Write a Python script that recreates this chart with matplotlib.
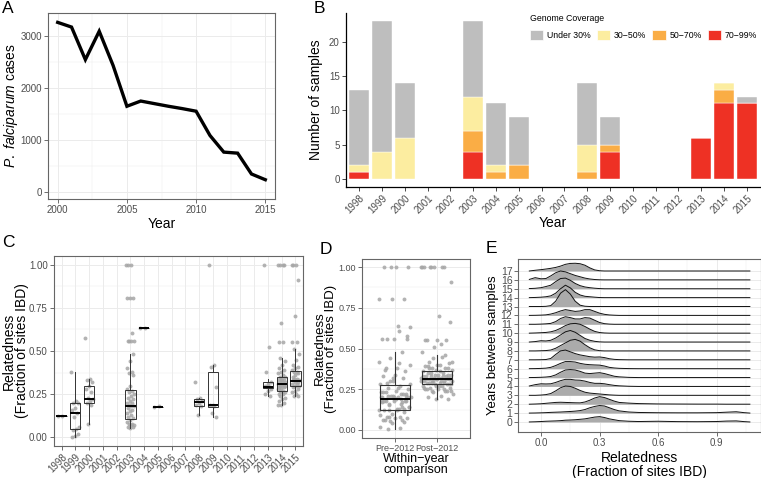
import numpy as np
import matplotlib
matplotlib.use('Agg')
import matplotlib.pyplot as plt
from matplotlib.patches import Patch

plt.rcParams['font.family'] = ['Liberation Sans', 'DejaVu Sans']
plt.rcParams['mathtext.fontset'] = 'custom'
plt.rcParams['mathtext.it'] = 'Liberation Sans:italic'
plt.rcParams['mathtext.rm'] = 'Liberation Sans'

# ---- A: P. falciparum cases per year
case_years = list(range(2000, 2016))
case_counts = [3260, 3170, 2545, 3090, 2435, 1650, 1750, 1700, 1650, 1605,
               1555, 1090, 770, 750, 350, 240]

# ---- B: samples per year by genome coverage
b_years = list(range(1998, 2016))
cov_red = [1, 0, 0, 0, 0, 4, 0, 0, 0, 0, 0, 4, 0, 0, 0, 6, 11, 11]
cov_orange = [0, 0, 0, 0, 0, 3, 1, 2, 0, 0, 1, 1, 0, 0, 0, 0, 2, 0]
cov_yellow = [1, 4, 6, 0, 0, 5, 1, 0, 0, 0, 4, 0, 0, 0, 0, 0, 1, 0]
cov_grey = [11, 19, 8, 0, 0, 11, 9, 7, 0, 0, 9, 4, 0, 0, 0, 0, 0, 1]
cov_labels = ['Under 30%', '30\u221250%', '50\u221270%', '70\u221299%']
cov_colors = ['#BEBEBE', '#FCEDA0', '#FAAD45', '#EE3124']

# ---- C: within-year relatedness
rel_1998 = [0.125, 0.126]
rel_1999 = [0.38, 0.21, 0.20, 0.20, 0.17, 0.16, 0.14, 0.12, 0.06, 0.05, 0.04, 0.02, 0.01, 0.005]
rel_2000 = [0.575, 0.34, 0.33, 0.32, 0.30, 0.28, 0.26, 0.23, 0.22, 0.21, 0.20, 0.19, 0.08]
rel_2003 = [1.0, 1.0, 1.0, 0.805, 0.805, 0.805, 0.605, 0.56, 0.56, 0.56, 0.56, 0.48, 0.44,
            0.40, 0.38, 0.37, 0.36, 0.30, 0.28, 0.27, 0.26, 0.25, 0.24, 0.23, 0.22, 0.21,
            0.20, 0.20, 0.19, 0.18, 0.18, 0.17, 0.16, 0.15, 0.14, 0.13, 0.12, 0.11, 0.10,
            0.09, 0.08, 0.08, 0.07, 0.07, 0.06, 0.06, 0.055]
rel_2004 = [0.635, 0.636]
rel_2005 = [0.178, 0.179]
rel_2008 = [0.32, 0.23, 0.22, 0.21, 0.20, 0.19, 0.18, 0.13]
rel_2009 = [1.0, 0.42, 0.41, 0.29, 0.19, 0.19, 0.18, 0.14, 0.12]
rel_2013 = [1.0, 0.525, 0.38, 0.32, 0.31, 0.30, 0.29, 0.29, 0.28, 0.27, 0.25, 0.24]
rel_2014 = [1.0, 1.0, 1.0, 1.0, 0.665, 0.55, 0.55, 0.46, 0.44, 0.42, 0.40, 0.39, 0.38,
            0.37, 0.36, 0.35, 0.35, 0.34, 0.34, 0.33, 0.33, 0.32, 0.32, 0.32, 0.31, 0.31,
            0.31, 0.31, 0.30, 0.30, 0.30, 0.29, 0.29, 0.28, 0.28, 0.27, 0.27, 0.26, 0.26,
            0.25, 0.25, 0.24, 0.23, 0.22, 0.21, 0.20, 0.19, 0.19]
rel_2015 = [1.0, 1.0, 1.0, 0.91, 0.70, 0.555, 0.555, 0.51, 0.48, 0.45, 0.42, 0.41, 0.40,
            0.39, 0.38, 0.38, 0.37, 0.36, 0.35, 0.34, 0.34, 0.33, 0.33, 0.33, 0.32, 0.32,
            0.31, 0.31, 0.30, 0.30, 0.30, 0.29, 0.28, 0.27, 0.26, 0.25, 0.24, 0.24]
rel_by_year = {1998: rel_1998, 1999: rel_1999, 2000: rel_2000, 2003: rel_2003,
               2004: rel_2004, 2005: rel_2005, 2008: rel_2008, 2009: rel_2009,
               2013: rel_2013, 2014: rel_2014, 2015: rel_2015}

# box summaries
box_years = [1998, 1999, 2000, 2003, 2004, 2005, 2008, 2009, 2013, 2014, 2015]
box_q1 = [0.125, 0.05, 0.20, 0.105, 0.635, 0.178, 0.18, 0.175, 0.285, 0.27, 0.30]
box_med = [0.125, 0.14, 0.22, 0.18, 0.635, 0.178, 0.205, 0.19, 0.29, 0.31, 0.325]
box_q3 = [0.125, 0.20, 0.30, 0.275, 0.635, 0.178, 0.225, 0.38, 0.32, 0.35, 0.385]
box_lo = [0.125, 0.005, 0.08, 0.055, 0.635, 0.178, 0.13, 0.12, 0.24, 0.19, 0.24]
box_hi = [0.125, 0.38, 0.34, 0.48, 0.635, 0.178, 0.23, 0.42, 0.34, 0.46, 0.51]

# ---- D: pre/post 2012
d_groups = ['Pre\u22122012', 'Post\u22122012']
d_q1 = [0.12, 0.28]
d_med = [0.19, 0.315]
d_q3 = [0.275, 0.36]
d_lo = [0.005, 0.19]
d_hi = [0.48, 0.46]

# ---- E: ridgeline densities (height in row units)
ridge_x = [-0.06, -0.03, 0.0, 0.025, 0.05, 0.075, 0.1, 0.125, 0.15, 0.175, 0.2, 0.225,
           0.25, 0.275, 0.3, 0.325, 0.35, 0.375, 0.4, 0.45, 0.5, 0.6, 0.7, 0.8, 0.9,
           0.95, 1.0, 1.04, 1.07]
ridge_rows = list(range(18))
ridge_h = [
    [0, 0.02, 0.05, 0.08, 0.10, 0.12, 0.15, 0.20, 0.22, 0.25, 0.30, 0.35, 0.45, 0.55, 0.60, 0.50, 0.35, 0.25, 0.15, 0.08, 0.05, 0.08, 0.04, 0.03, 0.05, 0.10, 0.12, 0.04, 0],
    [0, 0.01, 0.03, 0.05, 0.08, 0.10, 0.12, 0.15, 0.18, 0.22, 0.28, 0.40, 0.60, 0.75, 0.85, 0.80, 0.60, 0.40, 0.25, 0.12, 0.07, 0.04, 0.03, 0.03, 0.05, 0.10, 0.15, 0.05, 0],
    [0, 0.02, 0.05, 0.10, 0.15, 0.20, 0.22, 0.20, 0.18, 0.16, 0.15, 0.25, 0.45, 0.70, 0.85, 0.75, 0.55, 0.35, 0.20, 0.12, 0.07, 0.03, 0.02, 0.01, 0.01, 0, 0, 0, 0],
    [0, 0, 0.03, 0.08, 0.20, 0.50, 0.85, 1.05, 1.00, 0.80, 0.55, 0.35, 0.25, 0.20, 0.15, 0.10, 0.05, 0.02, 0, 0, 0, 0, 0, 0, 0, 0, 0, 0, 0],
    [0.05, 0.20, 0.30, 0.28, 0.30, 0.45, 0.65, 0.80, 0.80, 0.72, 0.70, 0.60, 0.45, 0.35, 0.35, 0.30, 0.20, 0.12, 0.07, 0.02, 0, 0, 0, 0, 0, 0, 0, 0, 0],
    [0, 0.01, 0.03, 0.06, 0.12, 0.30, 0.60, 0.85, 0.90, 0.85, 0.70, 0.50, 0.45, 0.50, 0.55, 0.45, 0.30, 0.15, 0.08, 0.02, 0, 0, 0, 0, 0, 0, 0, 0, 0],
    [0, 0.01, 0.03, 0.06, 0.15, 0.35, 0.60, 0.80, 0.80, 0.75, 0.60, 0.50, 0.45, 0.42, 0.40, 0.30, 0.15, 0.08, 0.04, 0.01, 0, 0, 0, 0, 0, 0, 0, 0, 0],
    [0, 0, 0.01, 0.03, 0.15, 0.60, 1.00, 1.10, 0.90, 0.70, 0.55, 0.45, 0.35, 0.30, 0.32, 0.25, 0.12, 0.05, 0.02, 0, 0, 0, 0, 0, 0, 0, 0, 0, 0],
    [0, 0, 0.02, 0.04, 0.10, 0.30, 0.60, 0.90, 1.20, 1.30, 1.10, 0.70, 0.35, 0.12, 0.03, 0, 0, 0, 0, 0, 0, 0, 0, 0, 0, 0, 0, 0, 0],
    [0, 0.05, 0.15, 0.12, 0.20, 0.45, 0.80, 1.15, 1.30, 1.10, 0.75, 0.40, 0.20, 0.08, 0.02, 0, 0, 0, 0, 0, 0, 0, 0, 0, 0, 0, 0, 0, 0],
    [0, 0.02, 0.05, 0.08, 0.15, 0.30, 0.55, 0.85, 1.05, 1.10, 1.00, 0.75, 0.45, 0.20, 0.07, 0.02, 0, 0, 0, 0, 0, 0, 0, 0, 0, 0, 0, 0, 0],
    [0, 0, 0.02, 0.05, 0.10, 0.30, 0.65, 0.85, 0.75, 0.60, 0.60, 0.75, 0.70, 0.45, 0.20, 0.07, 0.02, 0, 0, 0, 0, 0, 0, 0, 0, 0, 0, 0, 0],
    [0, 0.01, 0.03, 0.06, 0.15, 0.30, 0.50, 0.65, 0.55, 0.45, 0.50, 0.65, 0.65, 0.45, 0.25, 0.12, 0.05, 0.02, 0, 0, 0, 0, 0, 0, 0, 0, 0, 0, 0],
    [0, 0, 0, 0.02, 0.10, 0.60, 1.50, 1.90, 1.40, 0.60, 0.15, 0.03, 0, 0, 0, 0, 0, 0, 0, 0, 0, 0, 0, 0, 0, 0, 0, 0, 0],
    [0, 0.02, 0.05, 0.10, 0.20, 0.50, 1.00, 1.40, 1.10, 0.60, 0.30, 0.15, 0.10, 0.05, 0.01, 0, 0, 0, 0, 0, 0, 0, 0, 0, 0, 0, 0, 0, 0],
    [0.02, 0.05, 0.12, 0.25, 0.40, 0.80, 1.15, 1.20, 0.95, 0.60, 0.35, 0.20, 0.12, 0.06, 0.02, 0, 0, 0, 0, 0, 0, 0, 0, 0, 0, 0, 0, 0, 0],
    [0.05, 0.25, 0.12, 0.15, 0.45, 0.80, 1.00, 0.90, 0.70, 0.50, 0.35, 0.20, 0.10, 0.04, 0.01, 0, 0, 0, 0, 0, 0, 0, 0, 0, 0, 0, 0, 0, 0],
    [0, 0.08, 0.15, 0.22, 0.30, 0.40, 0.55, 0.75, 0.85, 0.87, 0.82, 0.65, 0.35, 0.12, 0.03, 0, 0, 0, 0, 0, 0, 0, 0, 0, 0, 0, 0, 0, 0],
]

W, H = 761, 478
TICK_C = '#4D4D4D'
GRID_C = '#EBEBEB'
BORDER_C = '#666666'
PT_C = '#A6A6A6'


def px_axes(fig, left, top, right, bottom):
    return fig.add_axes([left / W, 1 - bottom / H, (right - left) / W, (bottom - top) / H])


def bw_style(ax):
    for s in ax.spines.values():
        s.set_color(BORDER_C)
        s.set_linewidth(0.8)
    ax.set_axisbelow(True)
    ax.grid(True, which='major', color=GRID_C, lw=0.7)
    ax.grid(True, which='minor', color=GRID_C, lw=0.35)
    ax.tick_params(which='major', length=3, width=0.5, color='#333333', labelsize=7, labelcolor=TICK_C, pad=1.5)
    ax.tick_params(which='minor', length=0)


def jitter(n, width):
    # deterministic spread of point positions (golden-ratio sequence)
    return np.array([((i * 0.6180339) % 1.0 - 0.5) * 2 * width for i in range(n)])


fig = plt.figure(figsize=(W / 100, H / 100), dpi=100)

# ---------------- A
axA = px_axes(fig, 48, 13, 275, 199)
axA.plot(case_years, case_counts, color='black', lw=2.4, solid_joinstyle='miter')
axA.set_xlim(1999.3, 2015.7)
axA.set_ylim(-130, 3440)
axA.set_xticks([2000, 2005, 2010, 2015])
axA.set_xticks([2002.5, 2007.5, 2012.5], minor=True)
axA.set_yticks([0, 1000, 2000, 3000])
axA.set_yticks([500, 1500, 2500], minor=True)
bw_style(axA)
axA.set_xlabel('Year', fontsize=10, labelpad=1)
axA.set_ylabel(r'$\it{P.\ falciparum}$ cases', fontsize=10, labelpad=0.5)

# ---------------- B
axB = px_axes(fig, 346, 13, 760, 187)
xb = np.arange(len(b_years))
bottom = np.zeros(len(b_years))
for vals, col in zip([cov_red, cov_orange, cov_yellow, cov_grey], cov_colors[::-1]):
    axB.bar(xb, vals, bottom=bottom, width=0.9, color=col, edgecolor='white', lw=0.3)
    bottom += np.array(vals)
axB.set_xlim(-0.58, len(b_years) - 0.42)
axB.set_ylim(-1.15, 24.15)
axB.set_yticks([0, 5, 10, 15, 20])
axB.set_xticks(xb)
axB.set_xticklabels([str(y) for y in b_years], rotation=45, ha='right', rotation_mode='anchor')
for s in ['top', 'right']:
    axB.spines[s].set_visible(False)
for s in ['left', 'bottom']:
    axB.spines[s].set_linewidth(0.9)
axB.tick_params(length=3, width=0.5, labelsize=7, labelcolor=TICK_C, pad=1.5)
axB.set_xlabel('Year', fontsize=10, labelpad=0)
axB.set_ylabel('Number of samples', fontsize=10, labelpad=4)
handles = [Patch(facecolor=c, edgecolor='white', lw=0.5) for c in cov_colors]
leg = fig.legend(handles, cov_labels, title='Genome Coverage', ncol=4,
                 loc='upper left', bbox_to_anchor=(524 / W, 1 - 8 / H),
                 frameon=False, fontsize=6.3, title_fontsize=6.3,
                 handlelength=1.5, handleheight=1.3, handletextpad=0.45,
                 columnspacing=0.7, borderpad=0.2, labelspacing=0.2, alignment='left')
leg._legend_box.sep = 5

# ---------------- C
axC = px_axes(fig, 54, 256, 303, 446)
c_pos = {y: i for i, y in enumerate(b_years)}
for yr, vals in rel_by_year.items():
    xs = c_pos[yr] + jitter(len(vals), 0.28)
    axC.scatter(xs, vals, s=8, color=PT_C, alpha=0.85, lw=0, zorder=2)
c_stats = [dict(q1=a, med=m, q3=b, whislo=lo, whishi=hi, fliers=[])
           for a, m, b, lo, hi in zip(box_q1, box_med, box_q3, box_lo, box_hi)]
axC.bxp(c_stats, positions=[c_pos[y] for y in box_years], widths=0.75,
        showfliers=False, showcaps=False, patch_artist=True,
        boxprops=dict(facecolor='none', edgecolor='#333333', lw=0.7),
        whiskerprops=dict(color='#333333', lw=0.7),
        medianprops=dict(color='black', lw=1.4), zorder=3)
axC.set_xlim(-0.55, len(b_years) - 0.45)
axC.set_ylim(-0.05, 1.05)
axC.set_xticks(xb)
axC.set_xticklabels([str(y) for y in b_years], rotation=45, ha='right', rotation_mode='anchor')
axC.set_yticks([0, 0.25, 0.5, 0.75, 1.0])
axC.set_yticklabels(['0.00', '0.25', '0.50', '0.75', '1.00'])
axC.set_yticks([0.125, 0.375, 0.625, 0.875], minor=True)
bw_style(axC)
axC.set_ylabel('Relatedness\n(Fraction of sites IBD)', fontsize=10, labelpad=0, linespacing=0.9)

# ---------------- D
axD = px_axes(fig, 362, 259, 470, 438)
pre_vals = [v for y, vals in rel_by_year.items() if y < 2012 for v in vals]
post_vals = [v for y, vals in rel_by_year.items() if y > 2012 for v in vals]
for i, vals in enumerate([pre_vals, post_vals]):
    axD.scatter(i + 1 + jitter(len(vals), 0.38), vals, s=8, color=PT_C, alpha=0.85, lw=0, zorder=2)
d_stats = [dict(q1=a, med=m, q3=b, whislo=lo, whishi=hi, fliers=[])
           for a, m, b, lo, hi in zip(d_q1, d_med, d_q3, d_lo, d_hi)]
axD.bxp(d_stats, positions=[1, 2], widths=0.72, showfliers=False, showcaps=False,
        patch_artist=True,
        boxprops=dict(facecolor='none', edgecolor='#333333', lw=0.8),
        whiskerprops=dict(color='#333333', lw=0.8),
        medianprops=dict(color='black', lw=1.4), zorder=3)
axD.set_xlim(0.22, 2.78)
axD.set_ylim(-0.05, 1.05)
axD.set_xticks([1, 2])
axD.set_xticklabels(d_groups)
axD.set_yticks([0, 0.25, 0.5, 0.75, 1.0])
axD.set_yticklabels(['0.00', '0.25', '0.50', '0.75', '1.00'])
axD.set_yticks([0.125, 0.375, 0.625, 0.875], minor=True)
bw_style(axD)
axD.tick_params(labelsize=6.5)
axD.set_ylabel('Relatedness\n(Fraction of sites IBD)', fontsize=9.5, labelpad=1, linespacing=0.9)
axD.set_xlabel('Within\u2212year\ncomparison', fontsize=9, labelpad=0, linespacing=0.85)

# ---------------- E
axE = px_axes(fig, 518, 259, 761, 432)
rx = np.array(ridge_x)
n_r = len(ridge_rows)
for k in range(n_r - 1, -1, -1):
    row = ridge_rows[k]
    top = row + np.array(ridge_h[k])
    z = 2 + (n_r - k) * 0.1
    axE.fill_between(rx, row, top, color='#ABABAB', lw=0, zorder=z)
    axE.plot(rx, top, color='#111111', lw=0.7, zorder=z + 0.05)
axE.set_xlim(-0.118, 1.127)
axE.set_ylim(-1.13, 18.35)
axE.set_xticks([0, 0.3, 0.6, 0.9])
axE.set_xticklabels(['0.0', '0.3', '0.6', '0.9'])
axE.set_xticks([0.15, 0.45, 0.75, 1.05], minor=True)
axE.set_yticks(ridge_rows)
axE.set_yticklabels([str(r) for r in ridge_rows])
bw_style(axE)
axE.tick_params(axis='y', labelsize=7.5, pad=1)
axE.set_ylabel('Years between samples', fontsize=9.5, labelpad=1)
axE.set_xlabel('Relatedness\n(Fraction of sites IBD)', fontsize=10, labelpad=2, linespacing=1.0)

# panel letters
for lab, x, y in [('A', 2, 1), ('B', 314, 1), ('C', 2, 235), ('D', 320, 242), ('E', 486, 241)]:
    fig.text(x / W, 1 - y / H, lab, fontsize=12.5, va='top', ha='left')

fig.savefig('out.png', dpi=100)
